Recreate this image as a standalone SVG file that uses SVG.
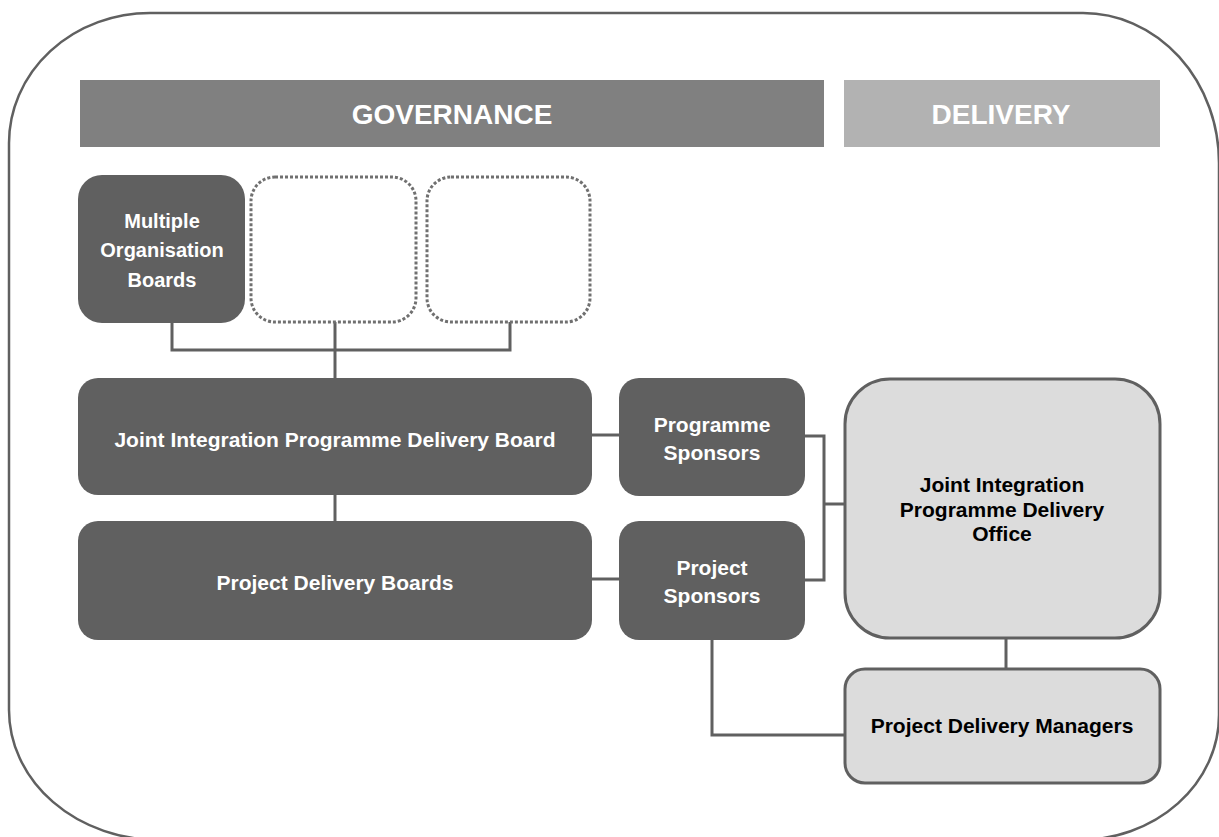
<svg xmlns="http://www.w3.org/2000/svg" width="1219" height="837" viewBox="0 0 1219 837">
<style>
.frame{fill:none;stroke:#606060;stroke-width:2.5}
.dark{fill:#606060}
.light{fill:#dcdcdc;stroke:#606060;stroke-width:3}
.dotted{fill:none;stroke:#707070;stroke-width:3;stroke-dasharray:3 2}
.hdr{font-family:"Liberation Sans",Arial,sans-serif;font-weight:bold;font-size:28px;fill:#ffffff;text-anchor:middle}
.wt{font-family:"Liberation Sans",Arial,sans-serif;font-weight:bold;font-size:21px;fill:#ffffff;text-anchor:middle}
.bk{font-family:"Liberation Sans",Arial,sans-serif;font-weight:bold;font-size:21px;fill:#000000;text-anchor:middle}
.conn{fill:none;stroke:#606060;stroke-width:3}
</style>
<rect width="1219" height="837" fill="#ffffff"/>
<path class="frame" d="M150 13 H1083 A136 150 0 0 1 1219 163 V715 A140 125 0 0 1 1079 840 H159 A150 130 0 0 1 9 710 V143 A141 130 0 0 1 150 13 Z"/>
<g id="header-governance">
<rect x="80" y="80" width="744" height="67" fill="#808080"/>
<text class="hdr" x="452" y="124">GOVERNANCE</text>
</g>
<g id="header-delivery">
<rect x="844" y="80" width="316" height="67" fill="#b2b2b2"/>
<text class="hdr" x="1001" y="124">DELIVERY</text>
</g>
<g id="connectors">
<path class="conn" d="M172 323 V350 H510 V322"/>
<path class="conn" d="M335 322 V378"/>
<path class="conn" d="M335 495 V521"/>
<path class="conn" d="M592 435 H619"/>
<path class="conn" d="M592 579 H619"/>
<path class="conn" d="M805 436 H824 V580 H805"/>
<path class="conn" d="M824 504 H844"/>
<path class="conn" d="M1006 638 V669"/>
<path class="conn" d="M712 640 V735 H844"/>
</g>
<g id="multiple-organisation-boards">
<rect class="dark" x="78" y="175" width="167" height="148" rx="24"/>
<text class="wt" x="162" y="228" style="font-size:20px">Multiple</text>
<text class="wt" x="162" y="257" style="font-size:20px">Organisation</text>
<text class="wt" x="162" y="287" style="font-size:20px">Boards</text>
</g>
<g id="placeholder-1">
<rect class="dotted" x="251" y="177" width="165" height="145" rx="24"/>
</g>
<g id="placeholder-2">
<rect class="dotted" x="427" y="177" width="163" height="145" rx="24"/>
</g>
<g id="joint-integration-programme-delivery-board">
<rect class="dark" x="78" y="378" width="514" height="117" rx="20"/>
<text class="wt" x="335" y="447">Joint Integration Programme Delivery Board</text>
</g>
<g id="project-delivery-boards">
<rect class="dark" x="78" y="521" width="514" height="119" rx="20"/>
<text class="wt" x="335" y="590">Project Delivery Boards</text>
</g>
<g id="programme-sponsors">
<rect class="dark" x="619" y="378" width="186" height="118" rx="20"/>
<text class="wt" x="712" y="432">Programme</text>
<text class="wt" x="712" y="460">Sponsors</text>
</g>
<g id="project-sponsors">
<rect class="dark" x="619" y="521" width="186" height="119" rx="20"/>
<text class="wt" x="712" y="575">Project</text>
<text class="wt" x="712" y="603">Sponsors</text>
</g>
<g id="joint-integration-programme-delivery-office">
<rect class="light" x="845" y="379" width="315" height="259" rx="45"/>
<text class="bk" x="1002" y="492">Joint Integration</text>
<text class="bk" x="1002" y="517">Programme Delivery</text>
<text class="bk" x="1002" y="541">Office</text>
</g>
<g id="project-delivery-managers">
<rect class="light" x="845" y="669" width="315" height="114" rx="20"/>
<text class="bk" x="1002" y="733">Project Delivery Managers</text>
</g>
</svg>
